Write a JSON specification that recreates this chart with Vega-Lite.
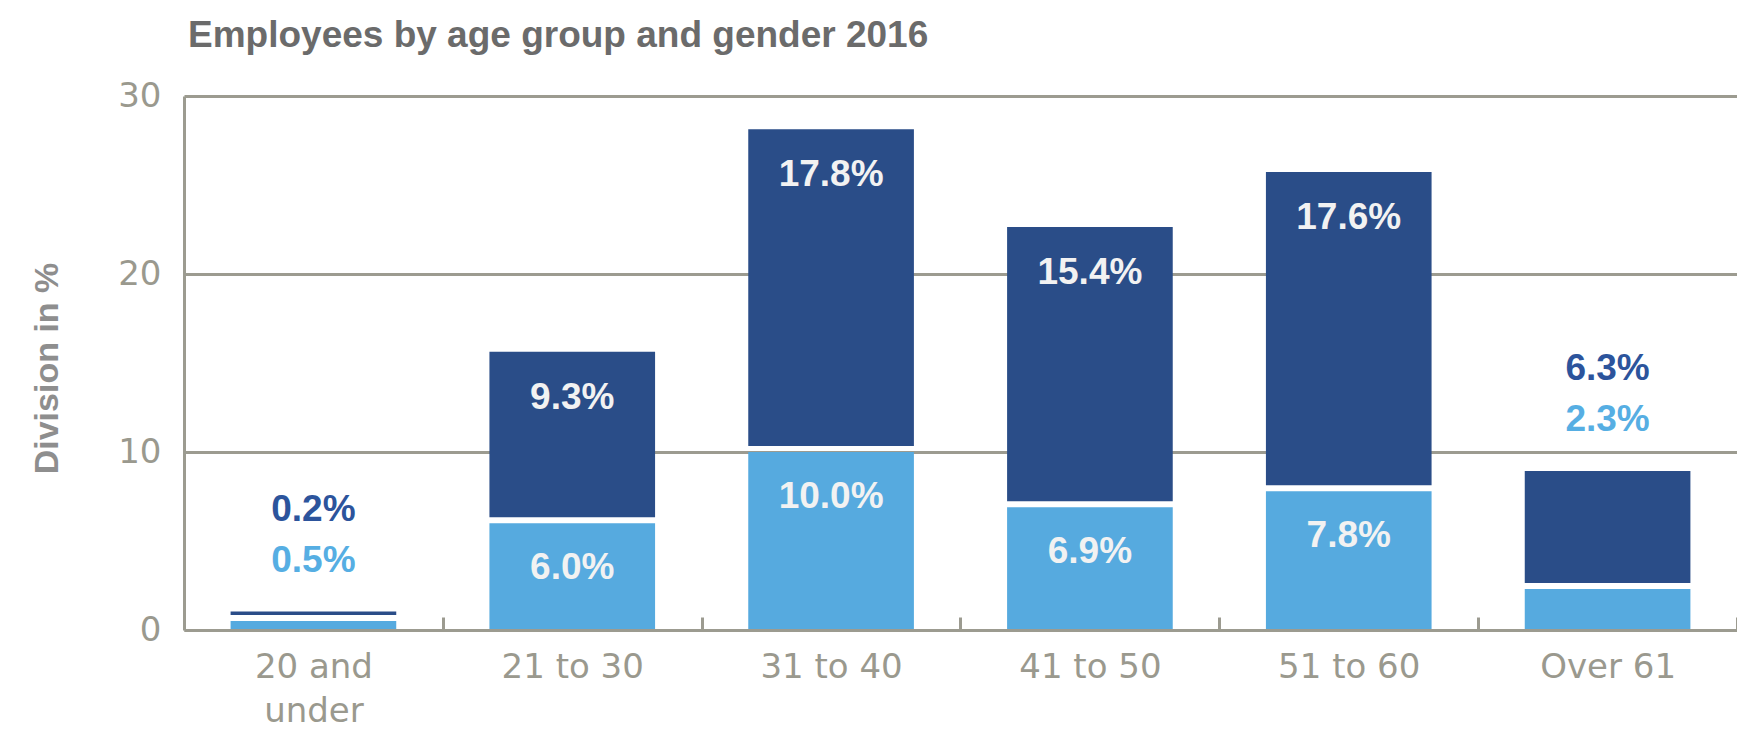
{
  "$schema": "https://vega.github.io/schema/vega-lite/v6.json",
  "width": 1553,
  "height": 534,
  "autosize": {"type": "none"},
  "padding": {"left": 184, "top": 96, "right": 0, "bottom": 101},
  "background": "white",
  "title": {
    "text": "Employees by age group and gender 2016",
    "anchor": "start",
    "frame": "group",
    "font": "Liberation Sans",
    "fontSize": 37,
    "fontWeight": "bold",
    "color": "#6b6b6b",
    "baseline": "alphabetic",
    "offset": -5,
    "dx": 4
  },
  "data": {
    "values": [
      {"age": "20 and under", "gender": "Women", "value": 0.5},
      {"age": "20 and under", "gender": "Men", "value": 0.2},
      {"age": "21 to 30", "gender": "Women", "value": 6.0},
      {"age": "21 to 30", "gender": "Men", "value": 9.3},
      {"age": "31 to 40", "gender": "Women", "value": 10.0},
      {"age": "31 to 40", "gender": "Men", "value": 17.8},
      {"age": "41 to 50", "gender": "Women", "value": 6.9},
      {"age": "41 to 50", "gender": "Men", "value": 15.4},
      {"age": "51 to 60", "gender": "Women", "value": 7.8},
      {"age": "51 to 60", "gender": "Men", "value": 17.6},
      {"age": "Over 61", "gender": "Women", "value": 2.3},
      {"age": "Over 61", "gender": "Men", "value": 6.3}
    ]
  },
  "transform": [
    {"stack": "value", "groupby": ["age"], "sort": [{"field": "gender", "order": "descending"}], "as": ["v0", "v1"]},
    {"joinaggregate": [{"op": "sum", "field": "value", "as": "total"}], "groupby": ["age"]},
    {"calculate": "format(datum.value, '.1f') + '%'", "as": "label"},
    {"calculate": "datum.age == '20 and under' || datum.age == 'Over 61'", "as": "outside"}
  ],
  "encoding": {
    "x": {
      "field": "age",
      "type": "nominal",
      "sort": null,
      "scale": {"paddingInner": 0.36, "paddingOuter": 0.18},
      "axis": {
        "title": null,
        "labelAngle": 0,
        "labelFont": "DejaVu Sans",
        "labelFontSize": 34,
        "labelColor": "#9a998e",
        "labelPadding": 33,
        "labelLineHeight": 44,
        "labelExpr": "datum.value == '20 and under' ? ['20 and', 'under'] : datum.value",
        "labelOffset": -129.4,
        "domainColor": "#9c9b90",
        "domainWidth": 3,
        "tickColor": "#9c9b90",
        "tickWidth": 3,
        "tickSize": -13,
        "tickOffset": 129.4,
        "zindex": 1
      }
    },
    "color": {
      "field": "gender",
      "type": "nominal",
      "scale": {"domain": ["Men", "Women"], "range": ["#2a4d88", "#56aadf"]},
      "legend": null
    }
  },
  "layer": [
    {
      "transform": [{"filter": "datum.gender == 'Women'"}],
      "mark": {"type": "bar"},
      "encoding": {
        "y": {
          "field": "v0",
          "type": "quantitative",
          "scale": {"domain": [0, 30], "nice": false},
          "axis": {
            "values": [0, 10, 20, 30],
            "title": "Division in %",
            "titleFont": "Liberation Sans",
            "titleFontSize": 34,
            "titleFontWeight": "bold",
            "titleColor": "#8e8e8e",
            "titleAngle": -90,
            "titleX": -137,
            "titleY": 272,
            "titleAlign": "center",
            "titleBaseline": "middle",
            "labelFont": "DejaVu Sans",
            "labelFontSize": 34,
            "labelColor": "#9a998e",
            "labelPadding": 23,
            "ticks": false,
            "domainColor": "#9c9b90",
            "domainWidth": 3,
            "grid": true,
            "gridColor": "#9c9b90",
            "gridWidth": 3
          }
        },
        "y2": {"field": "v1"}
      }
    },
    {
      "transform": [{"filter": "datum.gender == 'Men'"}],
      "mark": {"type": "bar", "yOffset": -6, "y2Offset": -6},
      "encoding": {
        "y": {"field": "v0", "type": "quantitative"},
        "y2": {"field": "v1"}
      }
    },
    {
      "transform": [{"filter": "datum.gender == 'Women' && !datum.outside"}],
      "mark": {"type": "text", "font": "Liberation Sans", "fontSize": 37, "fontWeight": "bold", "baseline": "middle", "dy": 45},
      "encoding": {
        "y": {"field": "v1", "type": "quantitative"},
        "text": {"field": "label"},
        "color": {"value": "#f2f2f2"}
      }
    },
    {
      "transform": [{"filter": "datum.gender == 'Men' && !datum.outside"}],
      "mark": {"type": "text", "font": "Liberation Sans", "fontSize": 37, "fontWeight": "bold", "baseline": "middle", "dy": 40},
      "encoding": {
        "y": {"field": "v1", "type": "quantitative"},
        "text": {"field": "label"},
        "color": {"value": "#f2f2f2"}
      }
    },
    {
      "transform": [{"filter": "datum.gender == 'Women' && datum.outside"}],
      "mark": {"type": "text", "font": "Liberation Sans", "fontSize": 37, "fontWeight": "bold", "baseline": "middle", "dy": -57},
      "encoding": {
        "y": {"field": "total", "type": "quantitative"},
        "text": {"field": "label"},
        "color": {"value": "#56aee3"}
      }
    },
    {
      "transform": [{"filter": "datum.gender == 'Men' && datum.outside"}],
      "mark": {"type": "text", "font": "Liberation Sans", "fontSize": 37, "fontWeight": "bold", "baseline": "middle", "dy": -108},
      "encoding": {
        "y": {"field": "total", "type": "quantitative"},
        "text": {"field": "label"},
        "color": {"value": "#2c549c"}
      }
    }
  ],
  "config": {"view": {"stroke": null}}
}
